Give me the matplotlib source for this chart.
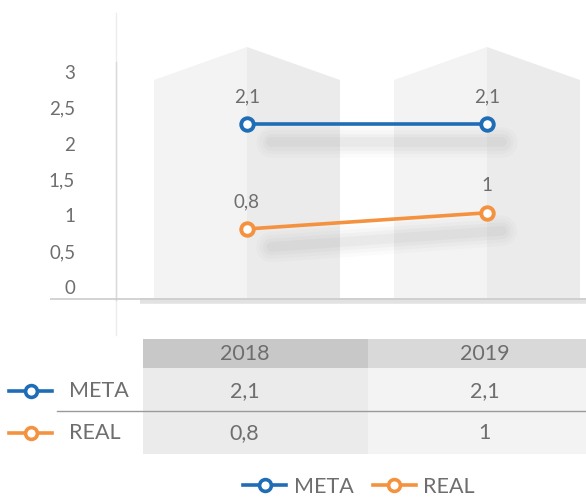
import numpy as np
import matplotlib.pyplot as plt
import matplotlib.transforms as mtransforms
from matplotlib.patches import Polygon, Rectangle
from matplotlib.lines import Line2D

years = ['2018', '2019']
series = ['META', 'REAL']
meta = [2.1, 2.1]
real = [0.8, 1.0]
values = [meta, real]
colors = ['#1f6db6', '#f4923f']
yticks = [0, 0.5, 1, 1.5, 2, 2.5, 3]


def fmt(v):
    return ('%g' % v).replace('.', ',')


plt.rcParams['font.family'] = ['Lato', 'DejaVu Sans']
txt = '#6e6e6e'
fs = 13.5      # chart labels
fs_tab = 15.5  # table + legend

W, H = 586, 499
fig = plt.figure(figsize=(W / 100, H / 100), dpi=100)


def box(x0, y0, x1, y1):
    # pixel box (origin top-left) -> figure fraction
    return [x0 / W, 1 - y1 / H, (x1 - x0) / W, (y1 - y0) / H]


# background layer in pixel coords
bg = fig.add_axes([0, 0, 1, 1], zorder=0)
bg.set_xlim(0, W)
bg.set_ylim(H, 0)
bg.axis('off')

# house shaped panels behind the categories
for cx in [247, 487]:
    bg.add_patch(Polygon([(cx - 93, 298), (cx - 93, 80), (cx, 47), (cx, 298)],
                         closed=True, fc='#f3f3f3', ec='none'))
    bg.add_patch(Polygon([(cx, 298), (cx, 47), (cx + 93, 80), (cx + 93, 298)],
                         closed=True, fc='#ebebeb', ec='none'))

# axis line and floor shadow
bg.plot([116, 116], [13, 335], color='#ededed', lw=1)
bg.plot([116, 116], [62, 300], color='#dadada', lw=1)
bg.plot([140, 586], [301, 301], color='#e2e2e2', lw=4, solid_capstyle='butt')
bg.plot([50, 586], [299, 299], color='#cccccc', lw=1.2, solid_capstyle='butt')

# table backgrounds
bg.add_patch(Rectangle((143, 339), 225, 29, fc='#c8c8c8', ec='none'))
bg.add_patch(Rectangle((368, 339), 218, 29, fc='#d9d9d9', ec='none'))
bg.add_patch(Rectangle((143, 368), 225, 86, fc='#ebebeb', ec='none'))
bg.add_patch(Rectangle((368, 368), 218, 86, fc='#f3f3f3', ec='none'))
bg.plot([57, 586], [411, 411], color='#9a9a9a', lw=1)

# data axes
ax = fig.add_axes(box(127, 30, 586, 298), zorder=1)
ax.set_xlim(-0.5, (586 - 247) / 240)
ax.set_ylim((293.6 - 298) / 80.8, (293.6 - 30) / 80.8)
ax.axis('off')

x = np.arange(len(years))
shadow = mtransforms.offset_copy(ax.transData, fig=fig, x=10, y=-18, units='dots')
for vals in values:
    sx = [x[0] + 0.06, x[-1] + 0.02]
    sy = [vals[0], vals[-1]]
    for lw, a in [(22, 0.02), (17, 0.025), (12, 0.03), (7, 0.035)]:
        ax.plot(sx, sy, color='#444444', lw=lw, alpha=a, transform=shadow,
                solid_capstyle='round')

for vals, c in zip(values, colors):
    ax.plot(x, vals, color=c, lw=2.6, marker='o', ms=9, mfc='white', mec=c, mew=2.8,
            zorder=3)
    for xi, v in zip(x, vals):
        ax.annotate(fmt(v), (xi, v), xytext=(0, 27), textcoords='offset pixels',
                    ha='center', va='center', fontsize=fs, color=txt)

# y tick labels
tax = fig.add_axes(box(80, 72, 81, 287), zorder=1)
tax.set_ylim(0, 3)
tax.set_yticks(yticks)
tax.set_yticklabels([fmt(t) for t in yticks])
tax.tick_params(axis='y', length=0, pad=3.5, labelsize=fs, labelcolor=txt)
tax.set_xticks([])
for s in tax.spines.values():
    s.set_visible(False)
tax.patch.set_visible(False)

# data table under the chart
trans = mtransforms.blended_transform_factory(ax.transData, bg.transData)
for xi, yr in zip(x, years):
    bg.text(xi - 0.01, 354, yr, transform=trans, ha='center', va='center',
            fontsize=fs_tab, color=txt)
row_y = [391, 433]
for name, vals, c, ry in zip(series, values, colors, row_y):
    bg.plot([9, 52], [ry, ry], color=c, lw=2.6)
    bg.plot([30.5], [ry], marker='o', ms=8.5, mfc='white', mec=c, mew=2.6, color=c)
    bg.text(69, ry, name, ha='left', va='center', fontsize=fs_tab, color=txt)
    for xi, v in zip(x, vals):
        bg.text(xi - 0.01, ry, fmt(v), transform=trans, ha='center', va='center',
                fontsize=fs_tab, color=txt)

# legend
handles = [Line2D([], [], color=c, lw=2.6, marker='o', ms=8.5, mfc='white', mec=c, mew=2.6)
           for c in colors]
fig.legend(handles, series, ncol=2, loc='center', bbox_to_anchor=(359 / W, 1 - 487 / H),
           frameon=False, fontsize=fs_tab, labelcolor=txt, handlelength=2.0,
           handletextpad=0.35, columnspacing=0.9, borderpad=0)

fig.savefig('out.png', dpi=100)
